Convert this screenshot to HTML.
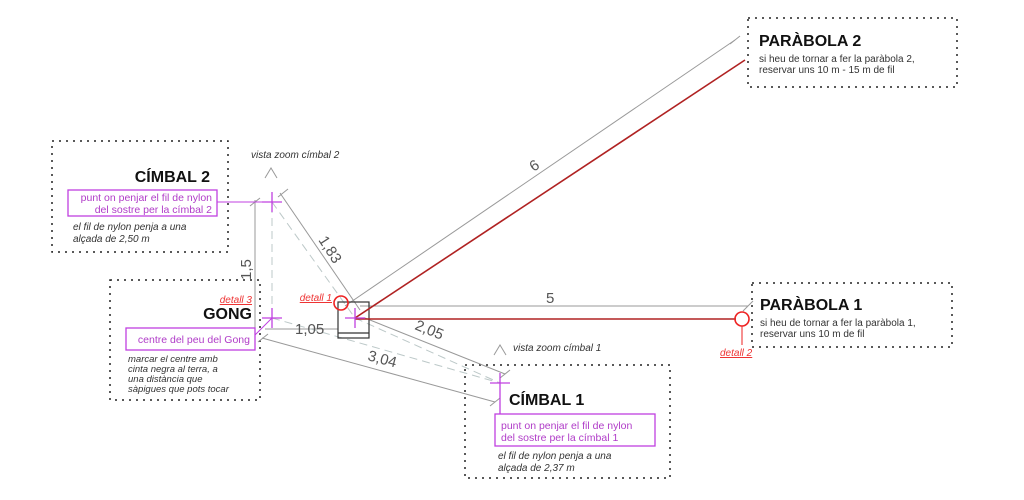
<!DOCTYPE html>
<html><head><meta charset="utf-8"><style>
body{margin:0;background:#fff}
svg{display:block}
text{font-family:"Liberation Sans",sans-serif}
.it{font-style:italic;font-size:10px;fill:#333}
.t{font-weight:bold;font-size:16px;fill:#111}
.m{font-size:10.5px;fill:#b03cc8}
.d{font-size:15px;fill:#555}
.r{font-style:italic;font-size:10px;fill:#e33;text-decoration:underline}
</style></head><body>
<svg width="1024" height="500" viewBox="0 0 1024 500">
<g fill="none" stroke="#222" stroke-width="1.5" stroke-dasharray="2,5">
<rect x="52" y="141" width="176" height="111"/>
<rect x="110" y="280" width="150" height="120"/>
<rect x="465" y="365" width="205" height="113"/>
<rect x="752" y="283" width="200" height="64"/>
<rect x="748" y="18" width="209" height="69"/>
</g>
<g stroke="#999" stroke-width="1" fill="none">
<line x1="255" y1="200" x2="255" y2="330"/>
<line x1="280" y1="193" x2="360" y2="310"/>
<line x1="345" y1="306" x2="735" y2="40"/>
<line x1="360" y1="306" x2="748" y2="306"/>
<line x1="265" y1="329" x2="338" y2="329"/>
<line x1="262" y1="338" x2="495" y2="402"/>
<line x1="365" y1="318" x2="505" y2="374"/>
<line x1="250" y1="206" x2="260" y2="198"/>
<line x1="278" y1="197" x2="288" y2="189"/>
<line x1="258" y1="342" x2="268" y2="334"/>
<line x1="490" y1="406" x2="500" y2="398"/>
<line x1="500" y1="378" x2="510" y2="370"/>
<line x1="730" y1="44" x2="740" y2="36"/>
<line x1="743" y1="311" x2="753" y2="301"/>
<polyline points="265,178 271,168 277,178"/>
<polyline points="494,355 500,345 506,355"/>
</g>
<g stroke="#bcc8c8" stroke-width="1" stroke-dasharray="8,5" fill="none">
<line x1="272" y1="205" x2="272" y2="318"/>
<line x1="272" y1="202" x2="355" y2="318"/>
<line x1="272" y1="318" x2="500" y2="383"/>
<line x1="355" y1="318" x2="500" y2="383"/>
</g>
<g stroke="#333" stroke-width="1.2" fill="none">
<rect x="338" y="302" width="31" height="36"/>
<line x1="338" y1="333" x2="369" y2="333"/>
</g>
<g stroke="#b02222" stroke-width="1.6">
<line x1="355" y1="318" x2="745" y2="60"/>
<line x1="355" y1="319" x2="736" y2="319"/>
</g>
<g stroke="#e22" stroke-width="1.6" fill="none">
<circle cx="341" cy="303" r="7"/>
<circle cx="742" cy="319" r="7"/>
<line x1="742" y1="326" x2="742" y2="345" stroke-width="1"/>
</g>
<g stroke="#c040e0" stroke-width="1.3" fill="none">
<rect x="68" y="190" width="149" height="26"/>
<rect x="126" y="328" width="129" height="22"/>
<rect x="495" y="414" width="160" height="32"/>
<line x1="217" y1="202" x2="262" y2="202" stroke-width="1"/>
<line x1="262" y1="202" x2="282" y2="202"/><line x1="272" y1="192" x2="272" y2="212"/>
<line x1="262" y1="318" x2="282" y2="318"/><line x1="272" y1="308" x2="272" y2="328"/>
<line x1="255" y1="335" x2="272" y2="318" stroke-width="1"/>
<line x1="345" y1="318" x2="365" y2="318"/><line x1="355" y1="308" x2="355" y2="328"/>
<line x1="490" y1="383" x2="510" y2="383"/><line x1="500" y1="373" x2="500" y2="414"/>
</g>
<text x="210" y="182" class="t" text-anchor="end">CÍMBAL 2</text>
<text x="212" y="201" class="m" text-anchor="end">punt on penjar el fil de nylon</text>
<text x="212" y="213" class="m" text-anchor="end">del sostre per la címbal 2</text>
<text x="73" y="230" class="it">el fil de nylon penja a una</text>
<text x="73" y="242" class="it">alçada de 2,50 m</text>
<text x="251" y="158" class="it">vista zoom címbal 2</text>
<text x="252" y="319" class="t" text-anchor="end">GONG</text>
<text x="250" y="343" class="m" text-anchor="end">centre del peu del Gong</text>
<g style="font-size:9.5px">
<text x="128" y="362" class="it" style="font-size:9.5px">marcar el centre amb</text>
<text x="128" y="372" class="it" style="font-size:9.5px">cinta negra al terra, a</text>
<text x="128" y="382" class="it" style="font-size:9.5px">una distància que</text>
<text x="128" y="392" class="it" style="font-size:9.5px">sàpigues que pots tocar</text>
</g>
<text x="252" y="303" class="r" text-anchor="end">detall 3</text>
<text x="332" y="301" class="r" text-anchor="end">detall 1</text>
<text x="720" y="356" class="r">detall 2</text>
<text x="513" y="351" class="it">vista zoom címbal 1</text>
<text x="509" y="405" class="t">CÍMBAL 1</text>
<text x="501" y="429" class="m">punt on penjar el fil de nylon</text>
<text x="501" y="441" class="m">del sostre per la címbal 1</text>
<text x="498" y="459" class="it">el fil de nylon penja a una</text>
<text x="498" y="471" class="it">alçada de 2,37 m</text>
<text x="760" y="310" class="t">PARÀBOLA 1</text>
<text x="760" y="326" style="font-size:10px;fill:#333">si heu de tornar a fer la paràbola 1,</text>
<text x="760" y="337" style="font-size:10px;fill:#333">reservar uns 10 m de fil</text>
<text x="759" y="46" class="t">PARÀBOLA 2</text>
<text x="759" y="62" style="font-size:10px;fill:#333">si heu de tornar a fer la paràbola 2,</text>
<text x="759" y="73" style="font-size:10px;fill:#333">reservar uns 10 m - 15 m de fil</text>
<text x="546" y="303" class="d">5</text>
<text x="530" y="170" class="d" transform="rotate(-34 535 165)">6</text>
<text x="0" y="0" class="d" transform="translate(318 240) rotate(57)">1,83</text>
<text x="0" y="0" class="d" transform="translate(251 280) rotate(-90)">1,5</text>
<text x="295" y="334" class="d">1,05</text>
<text x="0" y="0" class="d" transform="translate(414 329) rotate(22)">2,05</text>
<text x="0" y="0" class="d" transform="translate(367 360) rotate(15)">3,04</text>
</svg>
</body></html>
